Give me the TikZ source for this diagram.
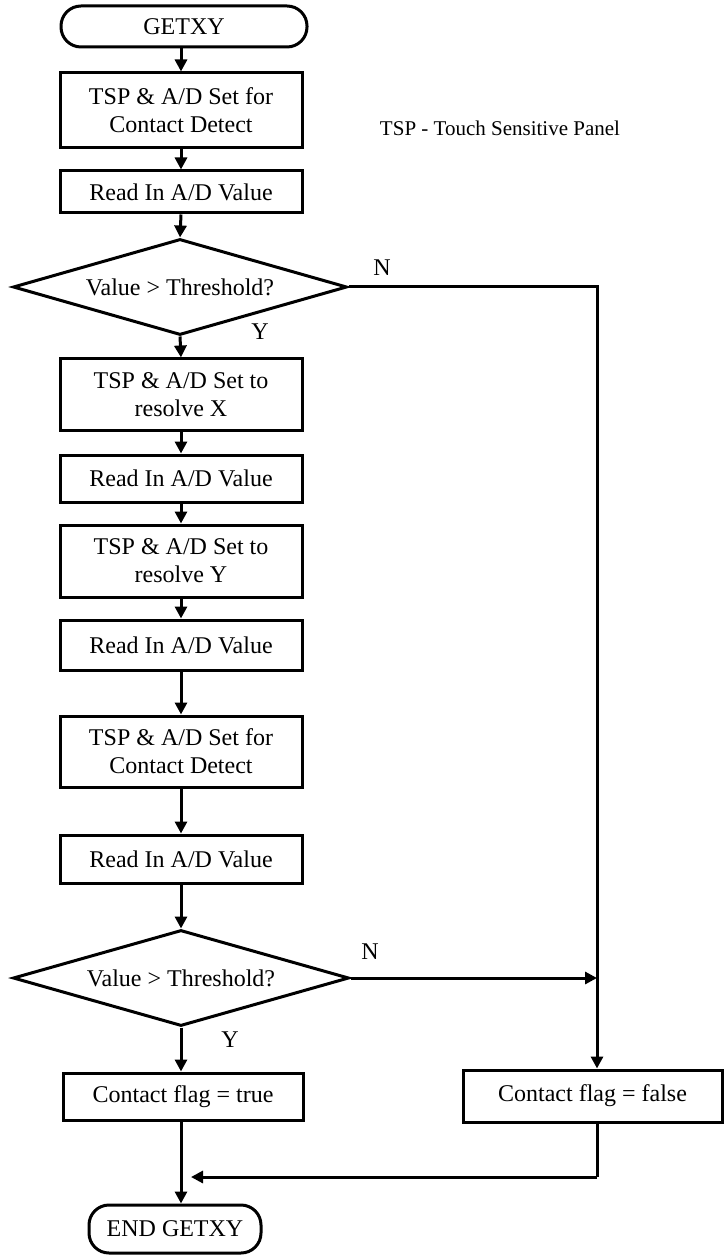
\documentclass[tikz,border=0pt]{standalone}
\usepackage{fontspec}
\setmainfont{Liberation Serif}
\usetikzlibrary{shapes.geometric,arrows.meta,calc}
\begin{document}
\begin{tikzpicture}[x=0.5pt,y=-0.5pt,
  font=\fontsize{12pt}{14pt}\selectfont,
  every node/.style={inner sep=0pt},
  box/.style={draw,line width=1.5pt,rectangle,minimum width=121pt,align=center},
  term/.style={draw,line width=1.5pt,rectangle,rounded corners=10pt,align=center},
  dec/.style={draw,line width=1.5pt,diamond,aspect=3.4,minimum width=167pt,minimum height=48pt},
  conn/.style={line width=1.5pt,-{Triangle[length=6pt,width=6pt]}},
  line/.style={line width=1.5pt},
  lbl/.style={font=\fontsize{12pt}{14pt}\selectfont},
  note/.style={font=\fontsize{10.5pt}{12pt}\selectfont}]
\useasboundingbox (0,0) rectangle (724,1256);

\node[term,minimum width=123pt,minimum height=20.5pt] (start) at (184,26.5) {GETXY};
\node[box,minimum height=37.5pt] (b1) at (181,110.5) {TSP \& A/D Set for\\Contact Detect};
\node[box,minimum height=21pt] (b2) at (181,192) {Read In A/D Value};
\node[dec] (d1) at (180,287) {Value > Threshold?};
\node[box,minimum height=35.5pt] (b3) at (181,394.5) {TSP \& A/D Set to\\resolve X};
\node[box,minimum height=23.5pt] (b4) at (181,478.5) {Read In A/D Value};
\node[box,minimum height=36pt] (b5) at (181,561) {TSP \& A/D Set to\\resolve Y};
\node[box,minimum height=25pt] (b6) at (181,645) {Read In A/D Value};
\node[box,minimum height=35.5pt] (b7) at (181,751.5) {TSP \& A/D Set for\\Contact Detect};
\node[box,minimum height=24pt] (b8) at (181,859) {Read In A/D Value};
\node[dec,minimum width=168pt] (d2) at (181,978) {Value > Threshold?};
\node[box,minimum width=120pt,minimum height=23.5pt] (bt) at (183,1096.5) {Contact flag = true};
\node[box,minimum width=129.5pt,minimum height=26pt] (bf) at (592.5,1096) {Contact flag = false};
\node[term,minimum width=86pt,minimum height=24pt] (end) at (175,1229) {END GETXY};

\node[note] (legend) at (500,128) {TSP - Touch Sensitive Panel};
\node[lbl] (n1) at (382,268) {N};
\node[lbl] (n2) at (370,952) {N};
\node[lbl] (y1) at (260,332) {Y};
\node[lbl] (y2) at (230,1040) {Y};

\coordinate (rtop) at (597,287);
\coordinate (rmid) at (597,978);
\coordinate (mrg) at (597,1177);
\coordinate (mtip) at (191,1177);

\draw[conn] (start.south -| b1.north) -- (b1.north);
\draw[conn] (b1) -- (b2);
\draw[conn] (b2.south) -- (d1.north);
\draw[conn] (d1.south) -- (b3.north);
\draw[conn] (b3) -- (b4);
\draw[conn] (b4) -- (b5);
\draw[conn] (b5) -- (b6);
\draw[conn] (b6) -- (b7);
\draw[conn] (b7) -- (b8);
\draw[conn] (b8.south) -- (d2.north);
\draw[conn] (d2.south) -- (d2.south |- bt.north);
\draw[conn] (d1.east) -- (rtop) -- (rtop |- bf.north);
\draw[conn] (d2.east) -- (rmid);
\draw[line] (rtop |- bf.south) -- (mrg);
\draw[conn] (mrg) -- (mtip);
\draw[conn] (bt.south -| d2.south) -- (d2.south |- end.north);
\end{tikzpicture}
\end{document}
